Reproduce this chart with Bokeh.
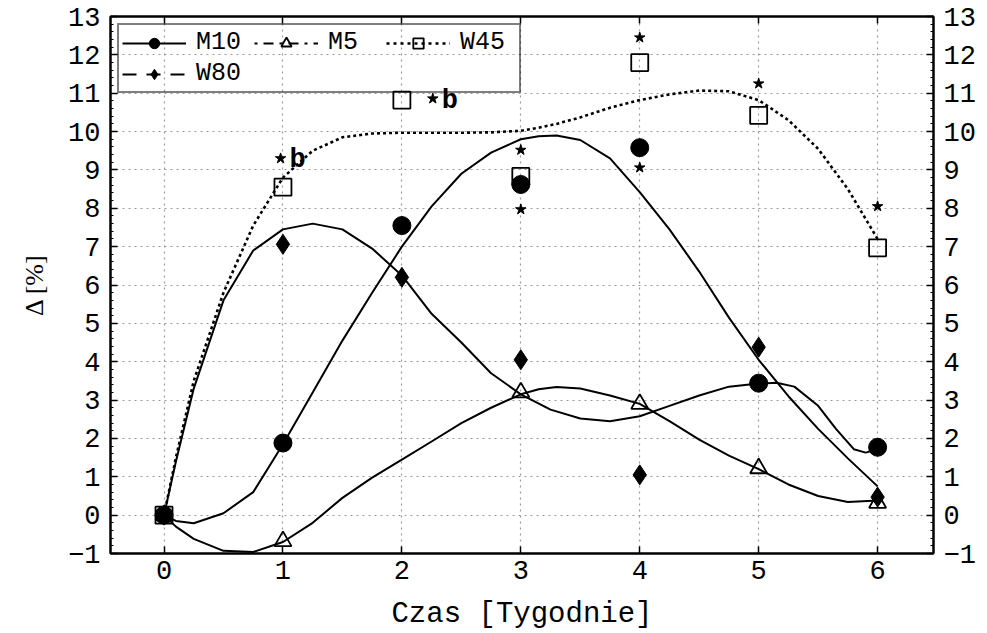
from bokeh.plotting import figure
from bokeh.models import (LinearAxis, SingleIntervalTicker, Legend, LegendItem,
                          ColumnDataSource, Range1d)
from bokeh.core.properties import value
from bokeh.embed import file_html
from bokeh.resources import INLINE

# ---------------- data ----------------
weeks = [0, 1, 2, 3, 4, 5, 6]
m10 = [0.0, 1.88, 7.55, 8.62, 9.58, 3.44, 1.77]
m5_weeks = [0, 1, 3, 4, 5, 6]
m5 = [0.0, -0.68, 3.2, 2.9, 1.22, 0.32]
w45 = [0.0, 8.55, 10.82, 8.83, 11.8, 10.42, 6.97]
w80 = [0.0, 7.06, 6.2, 4.05, 1.05, 4.38, 0.47]

# fitted curves
fit_x = [0, 0.1, 0.25, 0.5, 0.75, 1.0, 1.25, 1.5, 1.75, 2.0, 2.25, 2.5, 2.75,
         3.0, 3.15, 3.3, 3.5, 3.75, 4.0, 4.25, 4.5, 4.75, 5.0, 5.25, 5.5, 5.75, 6.0]
m10_fit = [0.0, -0.15, -0.21, 0.05, 0.6, 1.85, 3.2, 4.55, 5.8, 7.0, 8.05, 8.9, 9.45,
           9.8, 9.88, 9.9, 9.78, 9.3, 8.42, 7.45, 6.35, 5.15, 4.05, 3.1, 2.25, 1.48, 0.75]
m5_fit = [0.0, -0.3, -0.62, -0.93, -0.96, -0.7, -0.2, 0.45, 0.98, 1.45, 1.92, 2.4, 2.8,
          3.15, 3.28, 3.34, 3.3, 3.12, 2.9, 2.45, 1.97, 1.55, 1.2, 0.8, 0.5, 0.34, 0.38]
w45_fit = [0.0, 1.5, 3.5, 5.8, 7.55, 8.8, 9.5, 9.85, 9.95, 9.97, 9.97, 9.97, 9.98,
           10.02, 10.1, 10.2, 10.37, 10.62, 10.82, 10.97, 11.07, 11.05, 10.82, 10.3, 9.55, 8.5, 7.2]
w80_fit_x = [0, 0.1, 0.25, 0.5, 0.75, 1.0, 1.25, 1.5, 1.75, 2.0, 2.25, 2.5, 2.75,
             3.0, 3.25, 3.5, 3.75, 4.0, 4.25, 4.5, 4.75, 5.0, 5.15, 5.3, 5.5, 5.65,
             5.8, 5.9, 6.0]
w80_fit = [0.0, 1.4, 3.3, 5.6, 6.9, 7.45, 7.6, 7.45, 6.95, 6.25, 5.25, 4.5, 3.7,
           3.15, 2.75, 2.52, 2.45, 2.58, 2.85, 3.12, 3.35, 3.43, 3.45, 3.35, 2.85, 2.25,
           1.72, 1.63, 1.72]

# significance marks
star_x = [0.98, 2.26, 3.0, 3.0, 4.0, 4.0, 5.0, 6.0]
star_y = [9.3, 10.86, 9.52, 7.97, 12.45, 9.06, 11.25, 8.05]
b_x = [0.98, 2.26]
b_y = [9.3, 10.86]
b_text = ["b", "b"]

x_label = "Czas [Tygodnie]"
y_label = "\u0394 [%]"

MONO = "Liberation Mono"
SERIF = "Liberation Serif"

p = figure(width=987, height=633,
           x_range=Range1d(-0.45, 6.47), y_range=Range1d(-1, 13),
           output_backend="svg", toolbar_location=None,
           min_border_left=110, min_border_right=54,
           min_border_top=16, min_border_bottom=80)
p.background_fill_color = "white"
p.border_fill_color = "white"
p.outline_line_color = "black"
p.outline_line_width = 2

# ---------------- axes ----------------
def style_axis(ax, minor=False):
    ax.axis_line_color = "black"
    ax.axis_line_width = 2
    ax.major_tick_in = 7
    ax.major_tick_out = 0
    ax.major_tick_line_color = "black"
    ax.major_tick_line_width = 1.5
    if minor:
        ax.minor_tick_in = 3
        ax.minor_tick_out = 0
        ax.minor_tick_line_color = "black"
    else:
        ax.minor_tick_line_color = None
    ax.major_label_text_font = MONO
    ax.major_label_text_font_size = "27px"
    ax.major_label_text_color = "black"

p.xaxis.ticker = SingleIntervalTicker(interval=1, num_minor_ticks=0)
p.yaxis.ticker = SingleIntervalTicker(interval=1, num_minor_ticks=5)
style_axis(p.xaxis[0])
style_axis(p.yaxis[0], minor=True)
p.xaxis.major_label_standoff = 7
p.yaxis.major_label_standoff = 10
p.xaxis.axis_label = x_label
p.xaxis.axis_label_text_font = MONO
p.xaxis.axis_label_text_font_size = "29px"
p.xaxis.axis_label_text_font_style = "normal"
p.xaxis.axis_label_text_color = "black"
p.xaxis.axis_label_standoff = 16
p.yaxis.axis_label = y_label
p.yaxis.axis_label_text_font = SERIF
p.yaxis.axis_label_text_font_size = "26px"
p.yaxis.axis_label_text_font_style = "normal"
p.yaxis.axis_label_text_color = "black"
p.yaxis.axis_label_standoff = 16

raxis = LinearAxis(ticker=SingleIntervalTicker(interval=1, num_minor_ticks=5))
style_axis(raxis, minor=True)
raxis.major_label_standoff = 10
p.add_layout(raxis, "right")

taxis = LinearAxis(ticker=SingleIntervalTicker(interval=1, num_minor_ticks=0))
style_axis(taxis)
taxis.major_label_overrides = {k: "" for k in weeks}
taxis.major_label_text_font_size = "8px"
taxis.major_label_standoff = 0
p.add_layout(taxis, "above")

# ---------------- grid ----------------
for g in (p.xgrid[0], p.ygrid[0]):
    g.grid_line_color = "#9a9a9a"
    g.grid_line_dash = "2 4"
    g.grid_line_width = 1.2

# ---------------- curves ----------------
LW = 2
c_m10 = p.line(fit_x, m10_fit, line_color="black", line_width=LW, line_join="round")
c_m5 = p.line(fit_x, m5_fit, line_color="black", line_width=LW, line_join="round")
c_w80 = p.line(w80_fit_x, w80_fit, line_color="black", line_width=LW, line_join="round")
c_w45 = p.line(fit_x, w45_fit, line_color="black", line_width=2.6, line_dash="3 3",
               line_join="round")

# ---------------- points ----------------
r_m10 = p.scatter(weeks, m10, marker="circle", size=18, fill_color="black", line_color="black")
r_w80 = p.scatter(weeks, w80, marker="diamond", size=20, fill_color="black", line_color="black")
r_m5 = p.scatter(m5_weeks, m5, marker="triangle", size=17, fill_color=None,
                 line_color="black", line_width=1.8)
r_w45 = p.scatter(weeks, w45, marker="square", size=17, fill_color=None,
                  line_color="black", line_width=1.8)

p.scatter(star_x, star_y, marker="star", size=11, fill_color="black", line_color="black")
p.text(b_x, b_y, text=b_text, text_font=value(MONO), text_font_style="bold",
       text_font_size="27px", x_offset=9, y_offset=2, text_align="left",
       text_baseline="alphabetic", text_color="black")

# ---------------- legend (style samples, not drawn in the plot) ----------------
def nan_src():
    return ColumnDataSource(dict(x=[float("nan")], y=[float("nan")]))

l_m10 = p.line("x", "y", source=nan_src(), line_color="black", line_width=LW)
l_m5 = p.line("x", "y", source=nan_src(), line_color="black", line_width=LW, line_dash="3 6 10 6")
l_w45 = p.line("x", "y", source=nan_src(), line_color="black", line_width=2.4, line_dash="3 4")
l_w80 = p.line("x", "y", source=nan_src(), line_color="black", line_width=LW, line_dash="14 10")

legend = Legend(items=[
    LegendItem(label="M10", renderers=[l_m10, r_m10]),
    LegendItem(label="M5", renderers=[l_m5, r_m5]),
    LegendItem(label="W45", renderers=[l_w45, r_w45]),
    LegendItem(label="W80", renderers=[l_w80, r_w80]),
], location="top_left", orientation="horizontal", ncols=3)
legend.label_text_font = MONO
legend.label_text_font_size = "25px"
legend.label_text_color = "black"
legend.glyph_width = 64
legend.glyph_height = 26
legend.label_standoff = 10
legend.label_width = 56
legend.label_height = 24
legend.spacing = 2
legend.padding = 3
legend.margin = 7
legend.border_line_color = "black"
legend.border_line_width = 2
legend.background_fill_alpha = 0
p.add_layout(legend)

open("out.html", "w").write(file_html(p, INLINE))
